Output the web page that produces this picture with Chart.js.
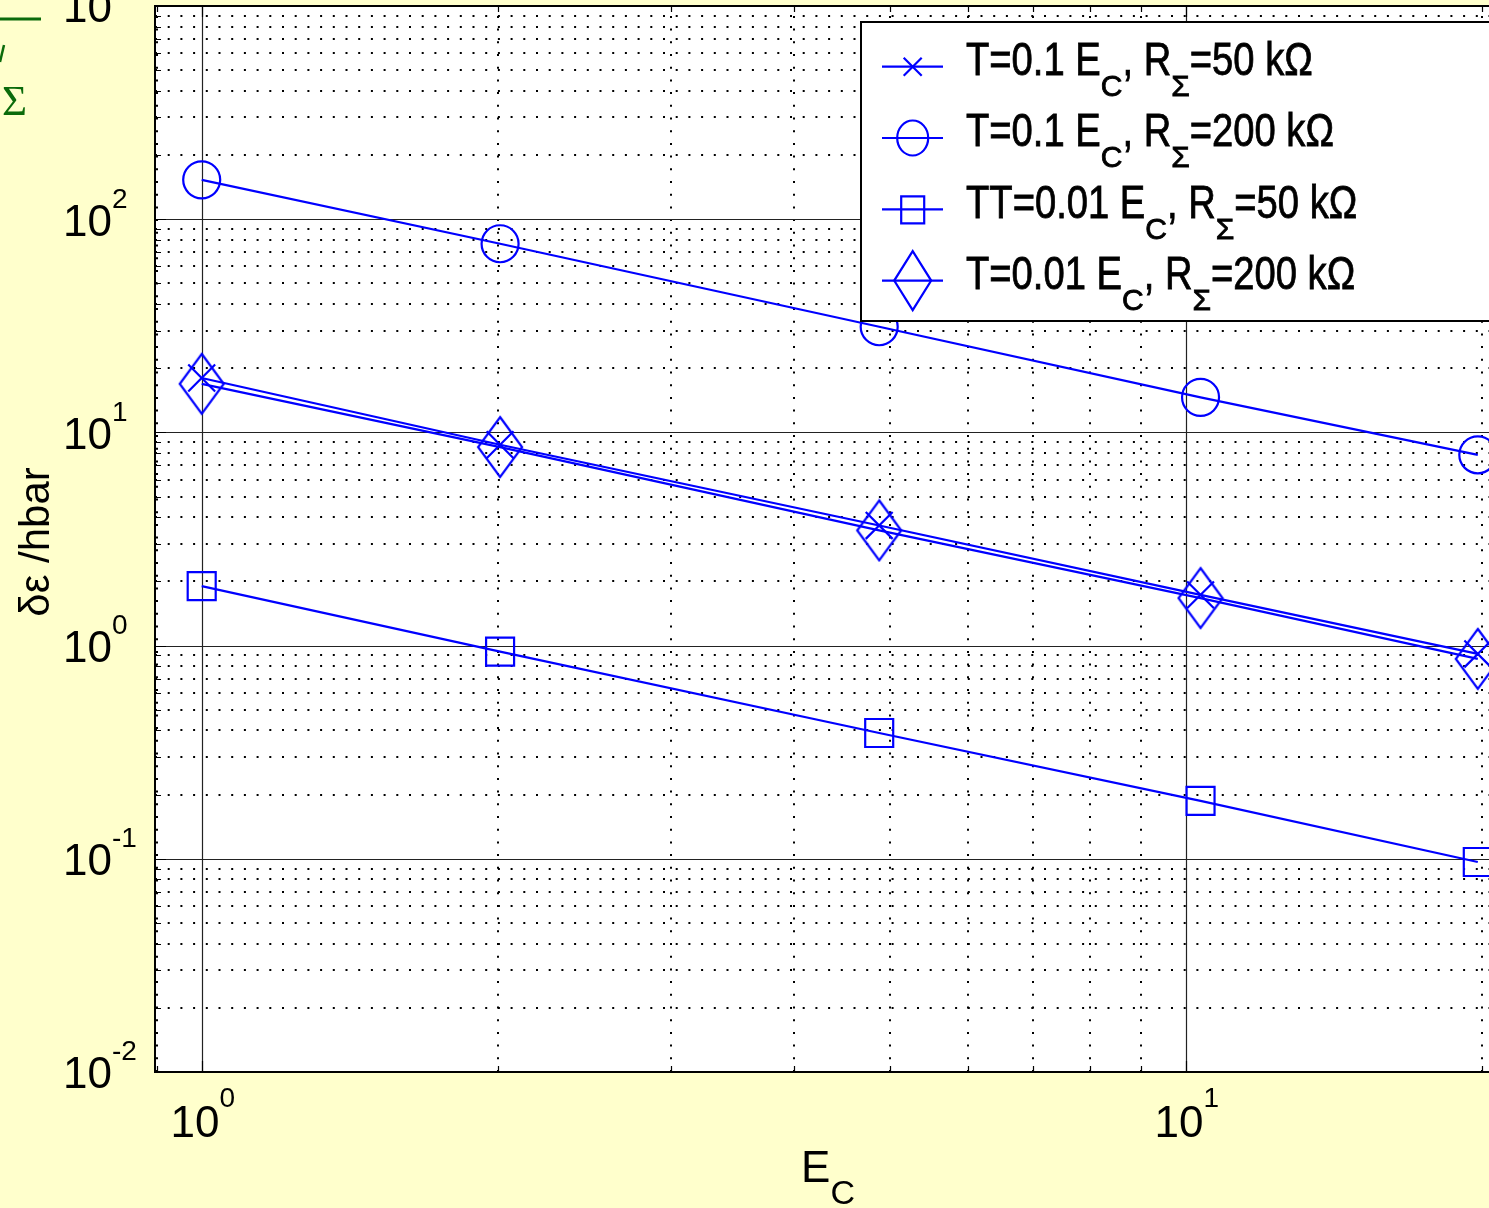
<!DOCTYPE html>
<html><head><meta charset="utf-8">
<script src="https://cdn.jsdelivr.net/npm/chart.js@4.4.1/dist/chart.umd.min.js"></script>
<style>
html,body{margin:0;padding:0;background:#ffffcc;overflow:hidden;width:1489px;height:1208px}
#wrap{position:absolute;left:0;top:0;width:1520px;height:1208px}
canvas{display:block}
</style></head><body>
<div id="wrap"><canvas id="c" width="1520" height="1208"></canvas></div>
<script>
// ---- data ----
const ecValues = [1.0, 2.01, 4.88, 10.35, 19.8];
const seriesT01R50  = [18.0, 8.75, 3.66, 1.73, 0.914];
const seriesT01R200 = [153, 76.7, 31.3, 14.6, 7.85];
const seriesT001R50 = [1.90, 0.937, 0.389, 0.187, 0.0966];
const seriesT001R200 = [16.9, 8.53, 3.47, 1.67, 0.866];
const legendLabels = [
  [['T=0.1 E',0],['C',1],[', R',0],['Σ',1],['=50 kΩ',0]],
  [['T=0.1 E',0],['C',1],[', R',0],['Σ',1],['=200 kΩ',0]],
  [['TT=0.01 E',0],['C',1],[', R',0],['Σ',1],['=50 kΩ',0]],
  [['T=0.01 E',0],['C',1],[', R',0],['Σ',1],['=200 kΩ',0]]
];
const xTickExponents = [0, 1];
const yTickExponents = [-2, -1, 0, 1, 2, 3];
const xLimits = [0.8965, 21.2];
const yLimits = [0.01, 1000];
const xTitle = [['E',0],['C',1]];
const yTitle = 'δε /hbar';

// ---- styles ----
const BLUE = '#0000ff';
const FONT = '"Liberation Sans", Arial, Helvetica, sans-serif';

function diamondImage(w, h, lw) {
  const c = document.createElement('canvas');
  c.width = w + lw * 2; c.height = h + lw * 2;
  const g = c.getContext('2d');
  g.strokeStyle = BLUE; g.lineWidth = lw;
  const cx = c.width / 2, cy = c.height / 2;
  g.beginPath();
  g.moveTo(cx, cy - h / 2); g.lineTo(cx + w / 2, cy);
  g.lineTo(cx, cy + h / 2); g.lineTo(cx - w / 2, cy);
  g.closePath(); g.stroke();
  return c;
}

function ds(label, ys, style, radius) {
  return {
    label, data: ecValues.map((x, i) => ({x, y: ys[i]})),
    borderColor: BLUE, borderWidth: 2.2, pointStyle: style, pointRadius: radius,
    pointBorderColor: BLUE, pointBackgroundColor: 'rgba(0,0,0,0)', pointBorderWidth: 2.2,
    fill: false, tension: 0
  };
}

function gridValues(min, max) {
  const out = [];
  for (let e = Math.floor(Math.log10(min)) - 1; e <= Math.ceil(Math.log10(max)); e++) {
    for (let m = 1; m <= 9; m++) {
      const v = m * Math.pow(10, e);
      if (v >= min * 0.9999 && v <= max * 1.0001) out.push({v, major: m === 1});
    }
  }
  return out;
}

// draw text pieces; main pieces horizontally scaled by mainScale, subscripts unscaled
function drawPieces(ctx, pieces, x, y, mainPx, subPx, subDy, mainScale, weight) {
  let cx = x;
  for (const [t, sub] of pieces) {
    const sc = sub ? 1 : mainScale;
    ctx.font = (sub ? subPx : mainPx) + 'px ' + FONT;
    ctx.save();
    ctx.translate(cx, y + (sub ? subDy : 0));
    ctx.scale(sc, 1);
    ctx.fillText(t, 0, 0);
    if (weight) { ctx.lineWidth = weight; ctx.strokeStyle = ctx.fillStyle; ctx.strokeText(t, 0, 0); }
    ctx.restore();
    cx += ctx.measureText(t).width * sc;
  }
  return cx;
}
function piecesWidth(ctx, pieces, mainPx, subPx, mainScale) {
  let w = 0;
  for (const [t, sub] of pieces) { ctx.font = (sub ? subPx : mainPx) + 'px ' + FONT; w += ctx.measureText(t).width * (sub ? 1 : mainScale); }
  return w;
}

const framePlugin = {
  id: 'frame',
  beforeDatasetsDraw(chart) {
    const {ctx, chartArea: a, scales: {x, y}} = chart;
    ctx.save();
    ctx.fillStyle = '#ffffcc'; ctx.fillRect(0, 0, chart.width, chart.height);
    ctx.fillStyle = '#ffffff'; ctx.fillRect(a.left, a.top, a.right - a.left, a.bottom - a.top);
    const xs = gridValues(x.min, x.max), ys = gridValues(y.min, y.max);
    // dotted minor grid
    ctx.strokeStyle = '#000'; ctx.lineWidth = 2; ctx.setLineDash([2, 10.7]);
    ctx.beginPath();
    for (const g of xs) if (!g.major) { const p = Math.round(x.getPixelForValue(g.v)); ctx.moveTo(p, a.bottom); ctx.lineTo(p, a.top); }
    for (const g of ys) if (!g.major) { const p = Math.round(y.getPixelForValue(g.v)); ctx.moveTo(a.left, p); ctx.lineTo(a.right, p); }
    ctx.stroke();
    // major grid
    ctx.setLineDash([]); ctx.strokeStyle = '#222'; ctx.lineWidth = 1.2;
    ctx.beginPath();
    for (const g of xs) if (g.major) { const p = Math.round(x.getPixelForValue(g.v)) + 0.5; ctx.moveTo(p, a.bottom); ctx.lineTo(p, a.top); }
    for (const g of ys) if (g.major) { const p = Math.round(y.getPixelForValue(g.v)) + 0.5; ctx.moveTo(a.left, p); ctx.lineTo(a.right, p); }
    ctx.stroke();
    // inward ticks
    ctx.strokeStyle = '#000'; ctx.lineWidth = 1.2;
    ctx.beginPath();
    for (const g of xs) { const p = Math.round(x.getPixelForValue(g.v)) + 0.5, L = g.major ? 11 : 6;
      ctx.moveTo(p, a.bottom); ctx.lineTo(p, a.bottom - L); ctx.moveTo(p, a.top); ctx.lineTo(p, a.top + L); }
    for (const g of ys) { const p = Math.round(y.getPixelForValue(g.v)) + 0.5, L = g.major ? 11 : 6;
      ctx.moveTo(a.left, p); ctx.lineTo(a.left + L, p); ctx.moveTo(a.right, p); ctx.lineTo(a.right - L, p); }
    ctx.stroke();
    ctx.restore();
  },
  afterDatasetsDraw(chart) {
    const {ctx, chartArea: a, scales: {x, y}} = chart;
    ctx.save();
    // axes box
    ctx.strokeStyle = '#000'; ctx.lineWidth = 2;
    ctx.strokeRect(a.left, a.top, a.right - a.left, a.bottom - a.top);

    // legend
    const L = {left: 861, top: 22, right: a.right - 6, bottom: 321};
    ctx.fillStyle = '#fff'; ctx.fillRect(L.left, L.top, L.right - L.left, L.bottom - L.top);
    ctx.strokeStyle = '#000'; ctx.lineWidth = 2;
    ctx.strokeRect(L.left, L.top, L.right - L.left, L.bottom - L.top);
    const rowY0 = 66.7, rowDy = 71.3, mx = 912.7;
    for (let i = 0; i < legendLabels.length; i++) {
      const ry = rowY0 + i * rowDy;
      ctx.strokeStyle = BLUE; ctx.lineWidth = 2.2; ctx.setLineDash([]);
      ctx.beginPath(); ctx.moveTo(882, ry); ctx.lineTo(943, ry); ctx.stroke();
      ctx.beginPath();
      if (i === 0) { const d = 9; ctx.moveTo(mx - d, ry - d); ctx.lineTo(mx + d, ry + d); ctx.moveTo(mx + d, ry - d); ctx.lineTo(mx - d, ry + d); }
      else if (i === 1) { ctx.ellipse(mx, ry, 15.5, 17.5, 0, 0, Math.PI * 2); }
      else if (i === 2) { ctx.rect(mx - 11.5, ry - 13, 23, 27); }
      else { ctx.moveTo(mx, ry - 29.5); ctx.lineTo(mx + 18.5, ry); ctx.lineTo(mx, ry + 29.5); ctx.lineTo(mx - 18.5, ry); ctx.closePath(); }
      ctx.stroke();
      ctx.fillStyle = '#000'; ctx.textAlign = 'left'; ctx.textBaseline = 'alphabetic';
      drawPieces(ctx, legendLabels[i], 966, ry + 8.3, 46, 30, 21, 0.83, 0.8);
    }

    // tick labels
    ctx.fillStyle = '#000'; ctx.textBaseline = 'alphabetic';
    for (const e of yTickExponents) {
      const p = y.getPixelForValue(Math.pow(10, e));
      ctx.font = '44px ' + FONT; ctx.textAlign = 'right'; ctx.fillText('10', 112, p + 16.3);
      ctx.font = '28px ' + FONT; ctx.textAlign = 'left'; ctx.fillText(String(e), 112, p - 11.7);
    }
    for (const e of xTickExponents) {
      const p = x.getPixelForValue(Math.pow(10, e));
      ctx.font = '44px ' + FONT; const w1 = ctx.measureText('10').width;
      ctx.font = '28px ' + FONT; const w2 = ctx.measureText(String(e)).width;
      const s = p - (w1 + w2) / 2 + 1;
      ctx.textAlign = 'left';
      ctx.font = '44px ' + FONT; ctx.fillText('10', s, 1136.7);
      ctx.font = '28px ' + FONT; ctx.fillText(String(e), s + w1, 1107);
    }
    // axis titles
    const cxm = (a.left + a.right) / 2;
    ctx.textAlign = 'left';
    const wt = piecesWidth(ctx, xTitle, 44, 34, 1);
    drawPieces(ctx, xTitle, cxm - wt / 2 - 3, 1182, 44, 34, 22, 1, 0);
    ctx.save();
    ctx.translate(49, (a.top + a.bottom) / 2 + 3); ctx.rotate(-Math.PI / 2);
    ctx.font = '42px ' + FONT; ctx.textAlign = 'center'; ctx.fillText(yTitle, 0, 0);
    ctx.restore();

    // fragment of neighbouring figure at top-left
    ctx.strokeStyle = '#0b6b0b'; ctx.fillStyle = '#0b6b0b';
    ctx.lineWidth = 3; ctx.beginPath(); ctx.moveTo(0, 19); ctx.lineTo(41, 19); ctx.stroke();
    ctx.lineWidth = 2.5; ctx.beginPath(); ctx.moveTo(4, 45); ctx.lineTo(0, 62); ctx.stroke();
    ctx.font = '43px "Liberation Serif", "Times New Roman", serif'; ctx.textAlign = 'left';
    ctx.fillText('Σ', 2, 115);
    ctx.restore();
  }
};

const chart = new Chart(document.getElementById('c'), {
  type: 'line',
  data: {
    datasets: [
      ds('T=0.1 E_C, R_Σ=50 kΩ', seriesT01R50, 'crossRot', 19),
      ds('T=0.1 E_C, R_Σ=200 kΩ', seriesT01R200, 'circle', 18.5),
      ds('TT=0.01 E_C, R_Σ=50 kΩ', seriesT001R50, 'rect', 19.8),
      ds('T=0.01 E_C, R_Σ=200 kΩ', seriesT001R200, diamondImage(44, 60, 2.2), 22)
    ]
  },
  options: {
    responsive: false, animation: false, devicePixelRatio: 1,
    layout: {autoPadding: false, padding: {left: 155, top: 6, right: 1520 - 1507, bottom: 136}},
    plugins: {legend: {display: false}, tooltip: {enabled: false}, title: {display: false}},
    events: [],
    scales: {
      x: {type: 'logarithmic', min: xLimits[0], max: xLimits[1],
          grid: {display: false}, border: {display: false}, ticks: {display: false},
          afterFit(s) { s.height = 0; }},
      y: {type: 'logarithmic', min: yLimits[0], max: yLimits[1],
          grid: {display: false}, border: {display: false}, ticks: {display: false},
          afterFit(s) { s.width = 0; }}
    }
  },
  plugins: [framePlugin]
});
</script>
</body></html>
